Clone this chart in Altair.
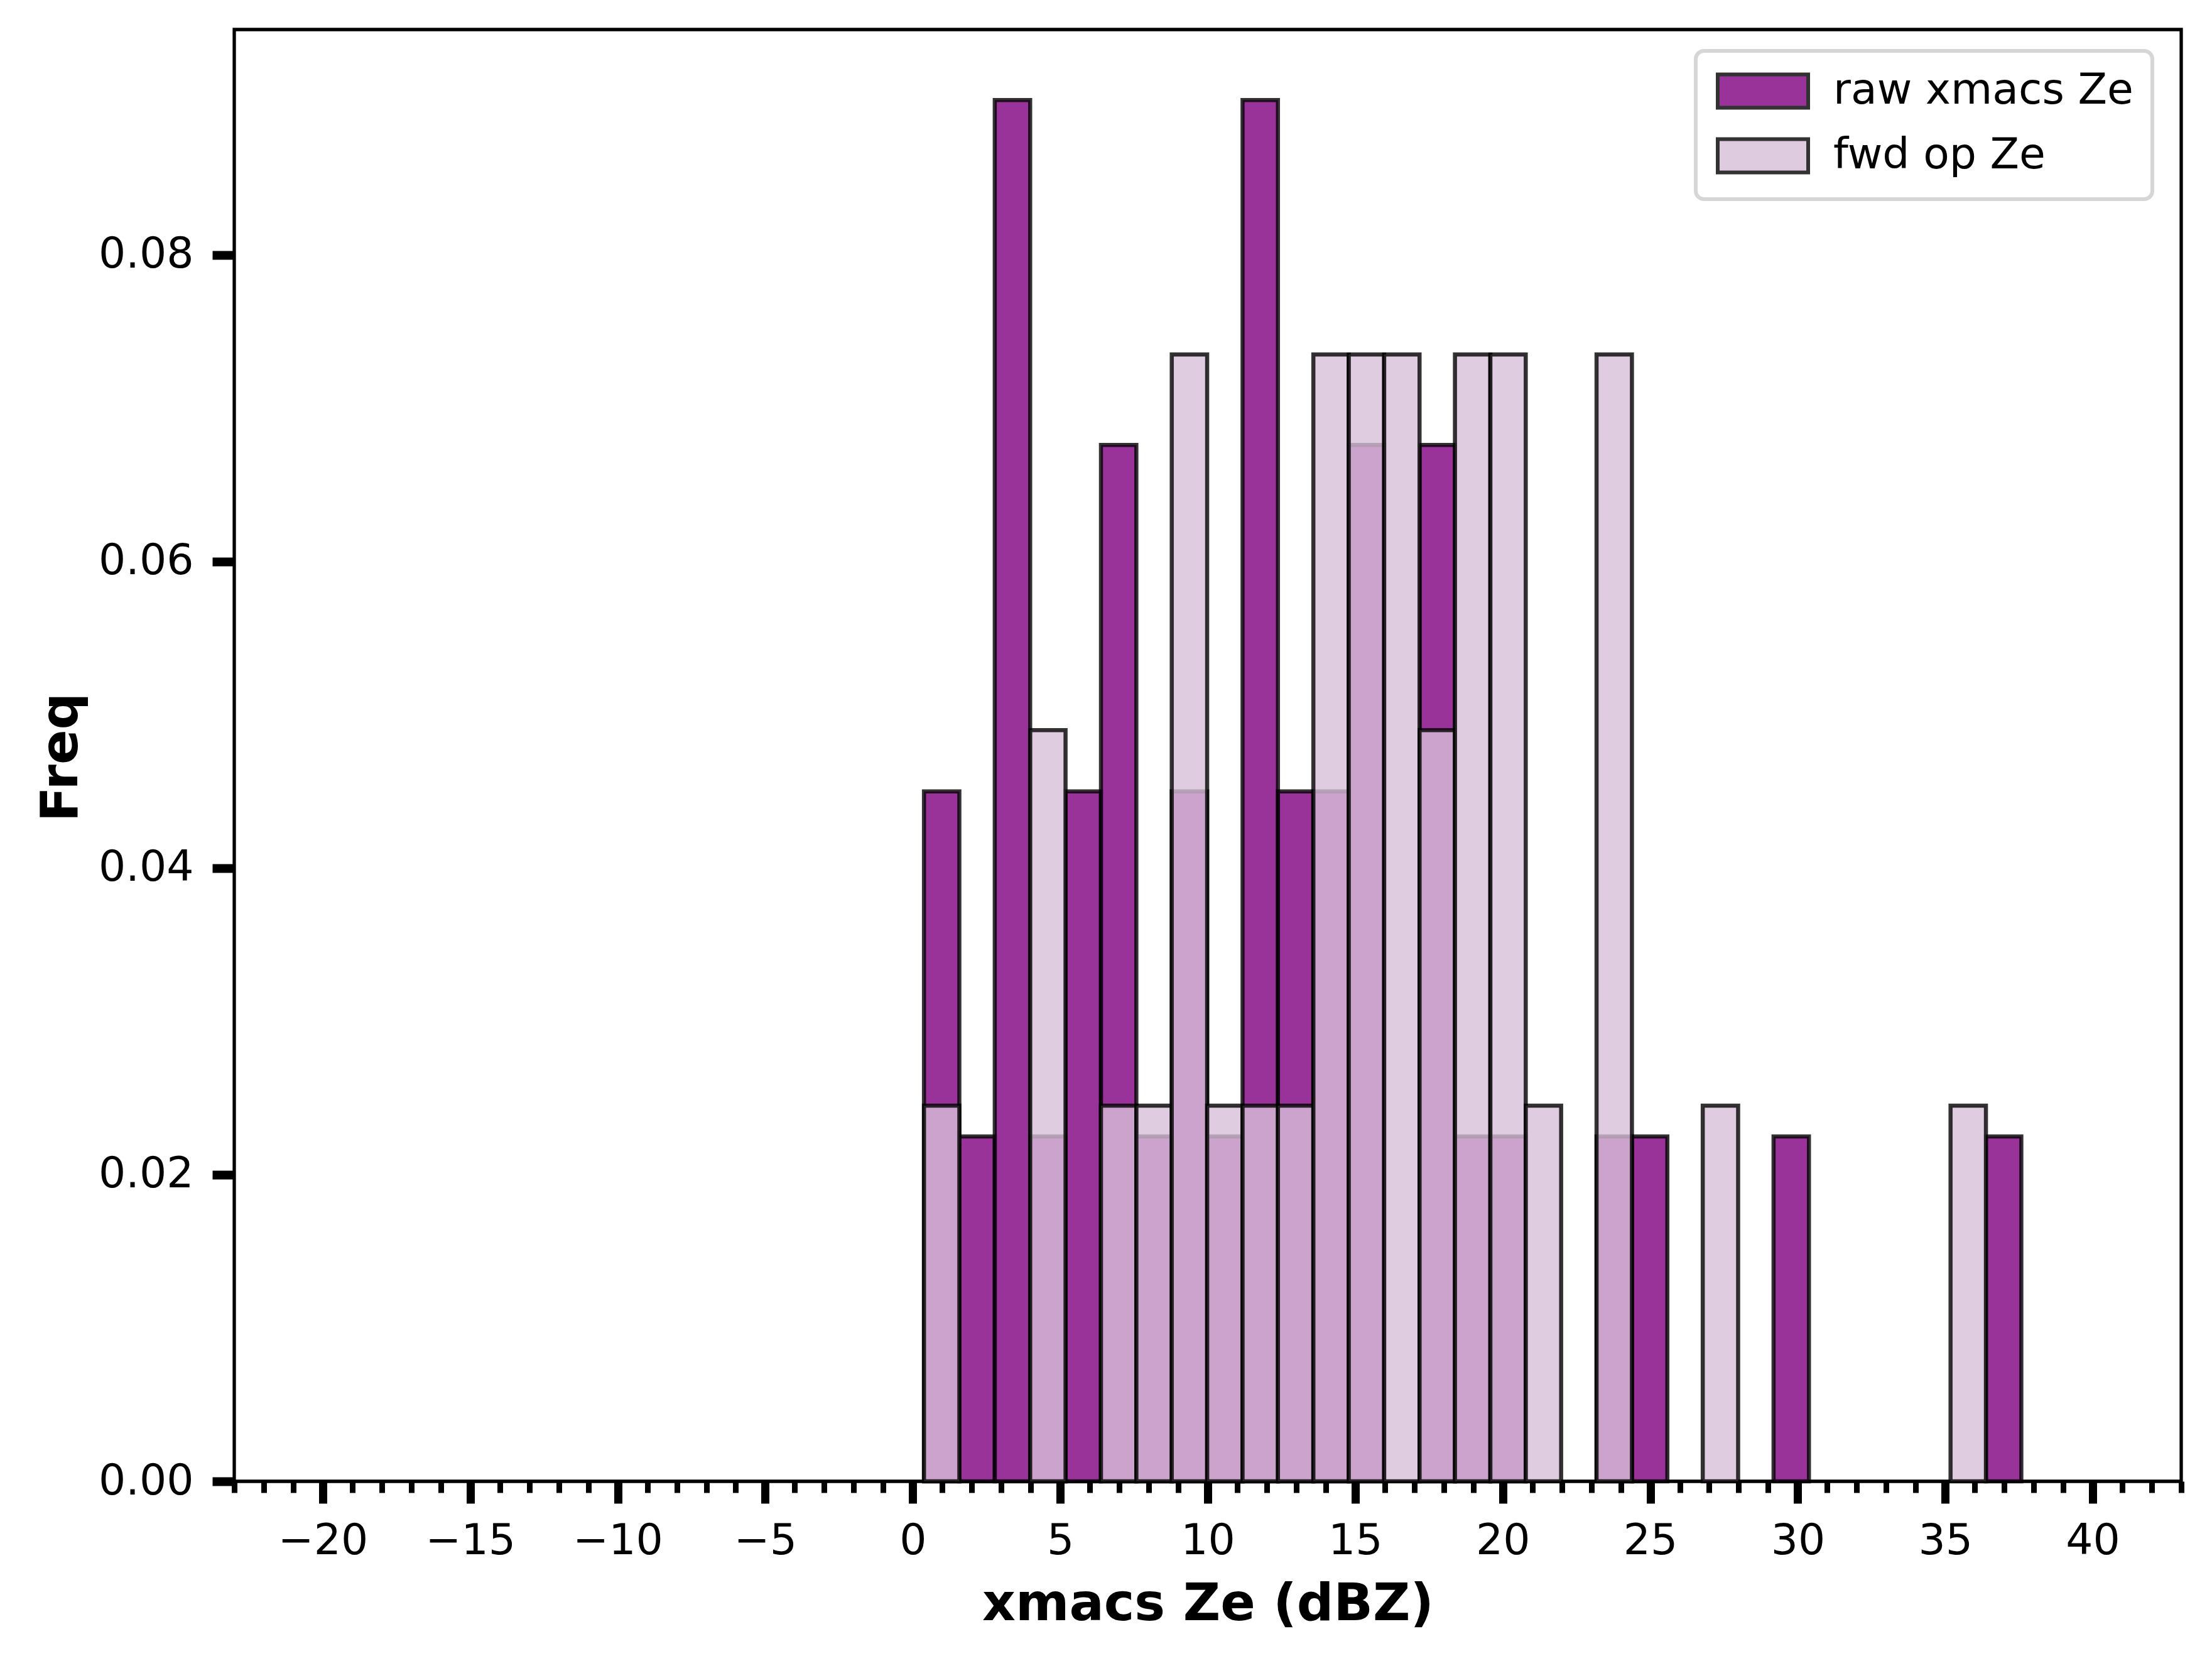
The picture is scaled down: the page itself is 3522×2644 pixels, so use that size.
import altair as alt
import pandas as pd

# histogram bin edges (dBZ)
bin_edges = [0.38, 1.58, 2.78, 3.98, 5.18, 6.38, 7.58, 8.78, 9.98, 11.18, 12.38,
             13.58, 14.78, 15.98, 17.18, 18.38, 19.58, 20.78, 21.98, 23.18, 24.38,
             25.58, 26.78, 27.98, 29.18, 30.38, 31.58, 32.78, 33.98, 35.18, 36.38, 37.58]

# normalised frequency per bin
raw_freq = [0.0450, 0.0225, 0.0901, 0.0225, 0.0450, 0.0676, 0.0225, 0.0450, 0.0225, 0.0901,
            0.0450, 0.0450, 0.0676, 0.0, 0.0676, 0.0225, 0.0225, 0.0, 0.0, 0.0225,
            0.0225, 0.0, 0.0, 0.0, 0.0225, 0.0, 0.0, 0.0, 0.0, 0.0, 0.0225]
fwd_freq = [0.0245, 0.0, 0.0, 0.0490, 0.0, 0.0245, 0.0245, 0.0735, 0.0245, 0.0245,
            0.0245, 0.0735, 0.0735, 0.0735, 0.0490, 0.0735, 0.0735, 0.0245, 0.0, 0.0735,
            0.0, 0.0, 0.0245, 0.0, 0.0, 0.0, 0.0, 0.0, 0.0, 0.0245, 0.0]

series_names = ["raw xmacs Ze", "fwd op Ze"]
series_colors = ["purple", "thistle"]

x_major = [-20, -15, -10, -5, 0, 5, 10, 15, 20, 25, 30, 35, 40]
x_minor = list(range(-23, 44))
y_ticks = [0.0, 0.02, 0.04, 0.06, 0.08]

rows = []
for name, vals in zip(series_names, [raw_freq, fwd_freq]):
    for i, v in enumerate(vals):
        if v > 0:
            rows.append({"series": name, "x0": bin_edges[i], "x1": bin_edges[i + 1], "freq": v})
df = pd.DataFrame(rows)

FONT = "DejaVu Sans"
W, H = 3100, 2311

xscale = alt.Scale(domain=[-23, 43], nice=False, zero=False)
yscale = alt.Scale(domain=[0, 0.0947], nice=False, zero=False)

color = alt.Color(
    "series:N",
    scale=alt.Scale(domain=series_names, range=series_colors),
    legend=alt.Legend(
        orient="none", legendX=2327, legendY=34, title=None,
        symbolType="M-2.717,-1H2.717V1H-2.717Z", symbolSize=2809,
        symbolStrokeColor="black", symbolStrokeWidth=6, symbolOpacity=0.8,
        symbolOffset=43, labelOffset=78, labelLimit=2000,
        labelFont=FONT, labelFontSize=68, labelColor="black",
        padding=30, rowPadding=25,
        strokeColor="#d6d6d6", fillColor="white", cornerRadius=13,
    ),
)

yaxis = alt.Axis(
    values=y_ticks, format=".2f", tickSize=35, tickWidth=14, tickColor="black",
    labelFont=FONT, labelFontSize=68, labelColor="black", labelPadding=30,
    domain=False, grid=False,
    title="Freq", titleFont=FONT, titleFontSize=82, titleFontWeight="bold",
    titleColor="black", titleAngle=270, titleX=-251, titleY=1158,
    titleBaseline="alphabetic", titleAlign="center",
)

xaxis_major = alt.Axis(
    values=x_major, orient="bottom", tickSize=35, tickWidth=13, tickColor="black",
    labelFont=FONT, labelFontSize=68, labelColor="black", labelPadding=80,
    labelBaseline="alphabetic", labelFlush=False, labelOverlap=False,
    domain=False, grid=False,
    title="xmacs Ze (dBZ)", titleFont=FONT, titleFontSize=82, titleFontWeight="bold",
    titleColor="black", titleX=1550, titleY=220, titleBaseline="alphabetic",
)

xaxis_minor = alt.Axis(
    values=x_minor, orient="bottom", tickSize=18, tickWidth=9, tickColor="black",
    labels=False, domain=False, grid=False, title=None,
)

mark_style = dict(fillOpacity=0.8, stroke="black", strokeOpacity=0.8, strokeWidth=6.5)

raw_layer = alt.Chart(df).transform_filter(
    alt.datum.series == series_names[0]
).mark_rect(**mark_style).encode(
    x=alt.X("x0:Q", scale=xscale, axis=xaxis_major),
    x2="x1:Q",
    y=alt.Y("freq:Q", scale=yscale, axis=yaxis),
    y2=alt.datum(0),
    color=color,
)

fwd_layer = alt.Chart(df).transform_filter(
    alt.datum.series == series_names[1]
).mark_rect(**mark_style).encode(
    x=alt.X("x0:Q", scale=xscale, axis=xaxis_minor),
    x2="x1:Q",
    y=alt.Y("freq:Q", scale=yscale, axis=yaxis),
    y2=alt.datum(0),
    color=color,
)

chart = alt.layer(raw_layer, fwd_layer).resolve_scale(
    x="shared", y="shared", color="shared"
).resolve_axis(x="independent").properties(
    width=W, height=H,
    autosize=alt.AutoSizeParams(type="none"),
    padding={"left": 365, "top": 39, "right": 41, "bottom": 278},
    background="white",
).configure_view(
    stroke="black", strokeWidth=5.3,
).configure_legend(
    strokeWidth=6,
)

chart.save("out.html", embed_options={"renderer": "svg", "actions": False})
